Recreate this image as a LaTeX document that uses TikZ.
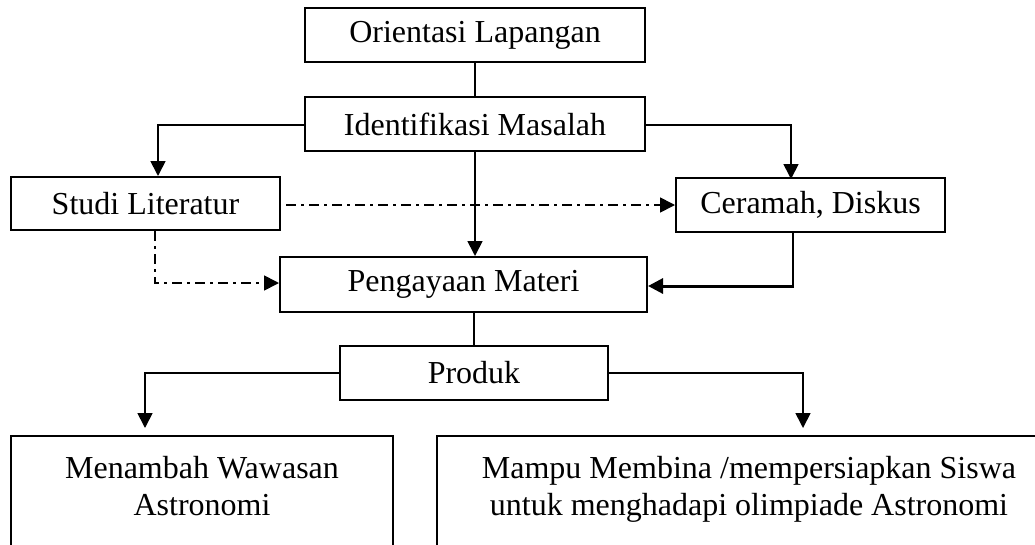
\documentclass[tikz,border=0pt]{standalone}
\usepackage{fontspec}
\setmainfont{Liberation Serif}
\usetikzlibrary{arrows.meta,calc,positioning}
\tikzset{
    box/.style={
        draw,
        line width=2pt,
        rectangle,
        inner sep=0pt,
        font=\fontsize{32}{37}\selectfont
    },
    link/.style={
        line width=1.7pt
    },
    arrowlink/.style={
        link,
        -{Triangle[length=15pt,width=15pt]}
    },
    dashlink/.style={
        arrowlink,
        dash pattern=on 10pt off 5pt on 3pt off 5pt
    }
}

\begin{document}
\begin{tikzpicture}[x=1pt,y=-1pt]
                \useasboundingbox (0,0) rectangle (1035,544);
                \clip (0,0) rectangle (1035,544);
                \coordinate (C1) at (475, 35);
                \coordinate (C2) at (475, 124);
                \coordinate (C3) at (145.5, 203.5);
                \coordinate (C4) at (810.5, 205);
                \coordinate (C5) at (463.5, 284.5);
                \coordinate (C6) at (474, 373);
                \coordinate (C7) at (202, 435);
                \coordinate (C8) at (749, 435);
                \node[box, minimum width=340pt, minimum height=54pt] (orient) at (C1) {Orientasi Lapangan};
                \node[box, minimum width=340pt, minimum height=54pt] (ident) at (C2) {Identifikasi Masalah};
                \node[box, minimum width=269pt, minimum height=53pt] (studi) at (C3) {Studi Literatur};
                \node[box, minimum width=269pt, minimum height=54pt] (ceramah) at (C4) {Ceramah, Diskus};
                \node[box, minimum width=367pt, minimum height=55pt] (materi) at (C5) {Pengayaan Materi};
                \node[box, minimum width=268pt, minimum height=54pt] (produk) at (C6) {Produk};
                \node[box, anchor=north, minimum width=382pt, minimum height=140pt,
                    label={[anchor=north, align=center, yshift=-18pt, font=\fontsize{32}{37}\selectfont]north:Menambah Wawasan\\Astronomi}]
                    (wawasan) at (C7) {};
                \node[box, anchor=north, minimum width=624pt, minimum height=140pt,
                    label={[anchor=north, align=center, yshift=-18pt, font=\fontsize{32}{37}\selectfont]north:Mampu Membina /mempersiapkan Siswa\\untuk menghadapi olimpiade Astronomi}]
                    (olimpiade) at (C8) {};
                % solid connectors
                \draw[link] (orient.south) -- (ident.north);
                \draw[arrowlink] ([yshift=-1pt]ident.west) -| ([xshift=12.5pt]studi.north);
                \draw[arrowlink] ([yshift=-1pt]ident.east) -| ([xshift=-19.5pt,yshift=-2pt]ceramah.north);
                \draw[arrowlink] (ident.south) -- (ident.south |- materi.north);
                \draw[link] ([xshift=-17.5pt]ceramah.south) -- ([xshift=-17.5pt,yshift=-0.6pt]ceramah.south |- materi.east);
                \draw[arrowlink, line width=3pt] ([xshift=-16.3pt,yshift=-1.5pt]ceramah.south |- materi.east) -- ([yshift=-1.5pt]materi.east);
                \draw[link] (produk.north |- materi.south) -- (produk.north);
                \draw[arrowlink, shorten >=7pt] (produk.west) -| ([xshift=-57pt]wawasan.north);
                \draw[arrowlink, shorten >=7pt] (produk.east) -| ([xshift=54pt]olimpiade.north);
                % dash-dot connectors
                \draw[dashlink, shorten <=5pt] (studi.east |- ceramah.west) -- (ceramah.west);
                \draw[dashlink] ([xshift=9.5pt]studi.south) |- ([yshift=1.5pt]materi.west);
            \end{tikzpicture}
\end{document}
